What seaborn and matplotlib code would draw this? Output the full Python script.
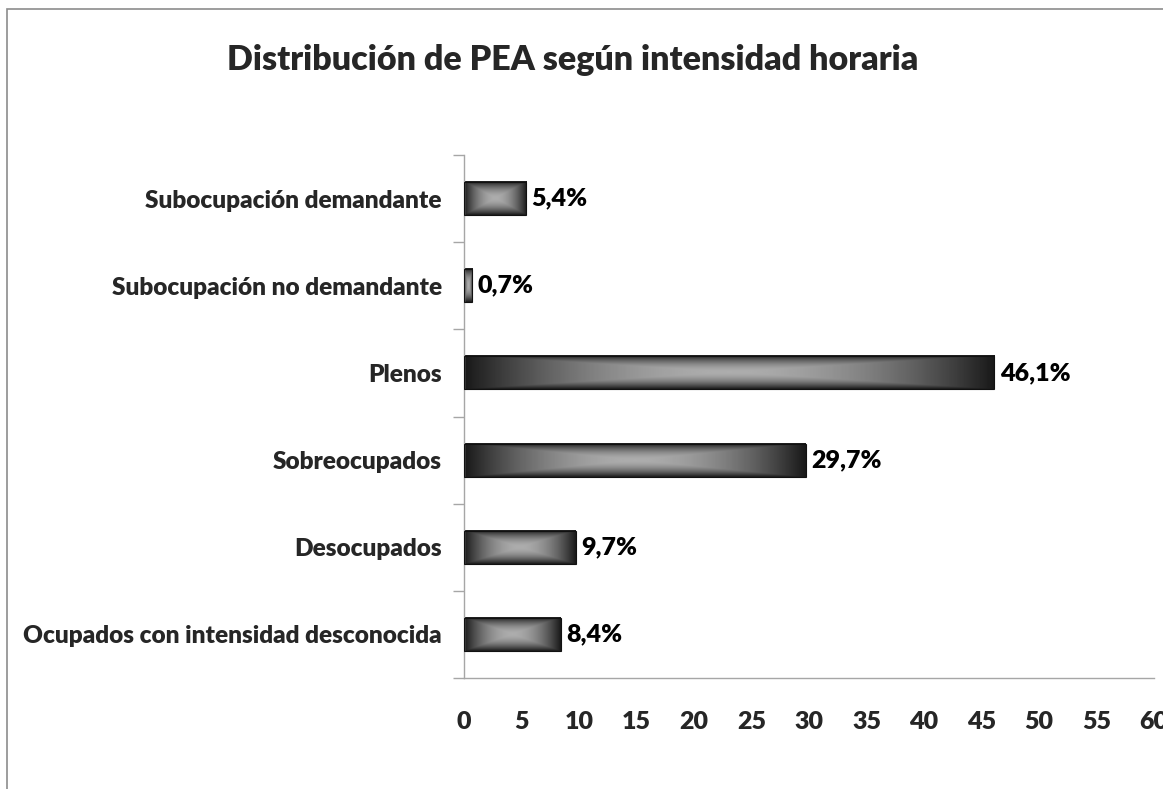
import matplotlib
matplotlib.use("Agg")
import matplotlib.pyplot as plt
import seaborn as sns
import pandas as pd
import numpy as np
from matplotlib.patches import Rectangle

# =========================
# DATA
# =========================

categories = [
    "Subocupación demandante",
    "Subocupación no demandante",
    "Plenos",
    "Sobreocupados",
    "Desocupados",
    "Ocupados con intensidad desconocida",
]

values = [5.4, 0.7, 46.1, 29.7, 9.7, 8.4]

x_ticks = list(range(0, 61, 5))

title = "Distribución de PEA según intensidad horaria"

df = pd.DataFrame({"categoria": categories, "valor": values})

# =========================
# STYLE
# =========================

sns.set_style("white")
plt.rcParams["font.family"] = ["Lato", "DejaVu Sans"]
plt.rcParams["font.weight"] = "bold"

fig = plt.figure(figsize=(11.63, 7.89), dpi=100)
ax = fig.add_axes([0.399, 0.1407, 0.5933, 0.6628])

sns.barplot(
    data=df,
    x="valor",
    y="categoria",
    orient="h",
    width=0.38,
    color="#444444",
    ax=ax,
)

# gradient fill ("rectangle from center")
n = 200
u = np.linspace(-1, 1, n)
uu, vv = np.meshgrid(u, u)
t = np.maximum(np.abs(uu), np.abs(vv))
grad = 1 - t ** 1.8

for p in ax.patches:
    x0, y0 = p.get_x(), p.get_y()
    w, h = p.get_width(), p.get_height()
    ax.imshow(
        grad,
        extent=[x0, x0 + w, y0 + h, y0],
        aspect="auto",
        cmap="gray",
        vmin=-0.172,
        vmax=1.552,
        interpolation="bilinear",
        zorder=2,
    )
    p.set_facecolor("none")
    p.set_edgecolor("#111111")
    p.set_linewidth(0.8)
    p.set_zorder(3)

ax.set_xlim(0, 60)
ax.set_ylim(len(categories) - 0.5, -0.5)
ax.set_aspect("auto")

labels = [f"{v:.1f}".replace(".", ",") + "%" for v in values]
ax.bar_label(ax.containers[0], labels=labels, padding=4,
             fontsize=18, fontweight="heavy", color="black")

# =========================
# AXES
# =========================

ax.set_xticks(x_ticks)
ax.set_xticklabels([str(v) for v in x_ticks])
ax.set_yticks(np.arange(-0.5, len(categories), 1.0), minor=True)

ax.tick_params(axis="x", which="major", direction="out", length=10,
               width=1, color="#a6a6a6", pad=14, labelsize=18)
ax.tick_params(axis="y", which="major", length=0, pad=16, labelsize=17.6)
ax.tick_params(axis="y", which="minor", direction="out", length=8,
               width=1, color="#a6a6a6", left=True)

for lab in ax.get_xticklabels() + ax.get_yticklabels():
    lab.set_fontweight("heavy")

ax.spines["top"].set_visible(False)
ax.spines["right"].set_visible(False)
ax.spines["left"].set_color("#a6a6a6")
ax.spines["bottom"].set_color("#a6a6a6")
ax.spines["left"].set_linewidth(1)
ax.spines["bottom"].set_linewidth(1)

ax.set_xlabel("")
ax.set_ylabel("")

fig.text(0.4927, 0.924, title, ha="center", va="center",
         fontsize=24.5, fontweight="heavy")

# chart border
fig.patches.append(Rectangle((0.006, -0.1), 1.2, 1.0886, transform=fig.transFigure,
                             fill=False, edgecolor="#8c8c8c", linewidth=1.2))

plt.savefig("out.png", dpi=100)
plt.close()
